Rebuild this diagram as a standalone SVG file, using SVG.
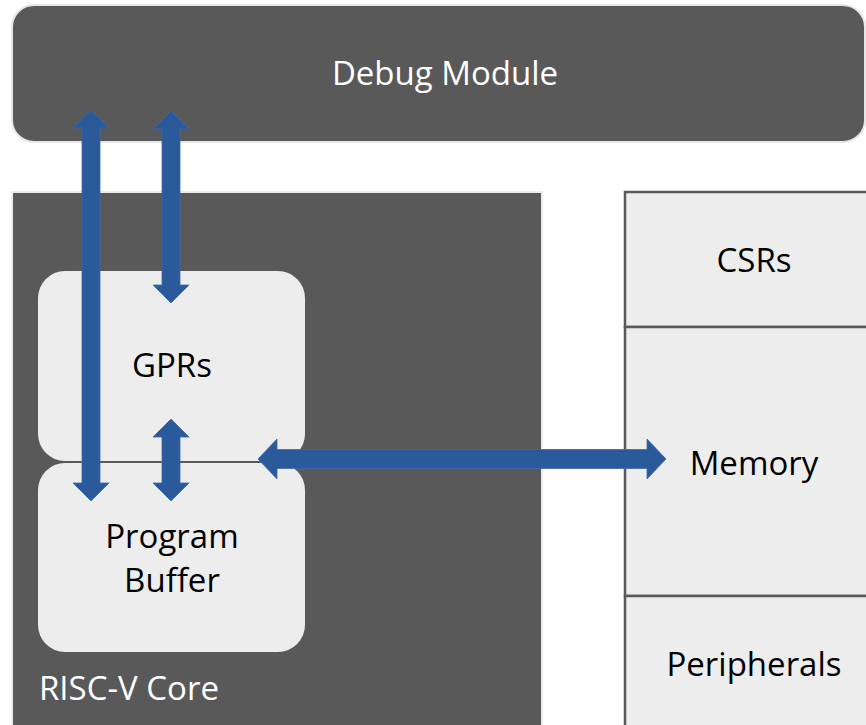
<svg xmlns="http://www.w3.org/2000/svg" width="866" height="725" viewBox="0 0 866 725">
<style>
.dark{fill:#595959}
.light{fill:#ededed}
.t{font-family:"Open Sans","Liberation Sans",sans-serif;font-size:33px;text-anchor:middle;fill:#000}
.w{fill:#fff}
.arr{fill:#2b5a9b;stroke:#3a6aa8;stroke-width:0.8}
</style>
<rect width="866" height="725" fill="#fff"/>
<g id="debug-module">
<rect class="dark" x="12" y="5" width="853" height="137" rx="22" stroke="#e6e6e6" stroke-width="2"/>
<text class="t w" x="445" y="85">Debug Module</text>
</g>
<g id="riscv-core">
<rect class="dark" x="12" y="192" width="530" height="545" stroke="#ececec" stroke-width="2"/>
<text class="t w" x="39" y="700" style="text-anchor:start">RISC-V Core</text>
</g>
<g id="gprs">
<rect class="light" x="38" y="271" width="267" height="190" rx="27"/>
<text class="t" x="172" y="377">GPRs</text>
</g>
<g id="program-buffer">
<rect class="light" x="38" y="463" width="267" height="189" rx="27"/>
<text class="t" x="172" y="548">Program</text>
<text class="t" x="172" y="592">Buffer</text>
</g>
<g id="csrs">
<rect class="light" x="625" y="192" width="250" height="135" stroke="#595959" stroke-width="2.5"/>
<text class="t" x="754" y="272">CSRs</text>
</g>
<g id="memory">
<rect class="light" x="625" y="327" width="250" height="269" stroke="#595959" stroke-width="2.5"/>
<text class="t" x="754" y="475">Memory</text>
</g>
<g id="peripherals">
<rect class="light" x="625" y="596" width="250" height="140" stroke="#595959" stroke-width="2.5"/>
<text class="t" x="754" y="676">Peripherals</text>
</g>
<g id="connectors">
<polygon class="arr" points="91,110 109,128 100,128 100,483 109,483 91,501 73,483 82,483 82,128 73,128"/>
<polygon class="arr" points="171,111 189,129 180,129 180,285 189,285 171,303 153,285 162,285 162,129 153,129"/>
<polygon class="arr" points="171,419 189,437 180,437 180,483 189,483 171,501 153,483 162,483 162,437 153,437"/>
<polygon class="arr" points="258,459 277,439 277,449.5 647,449.5 647,439 666,459 647,479 647,468.5 277,468.5 277,479"/>
</g>
</svg>
